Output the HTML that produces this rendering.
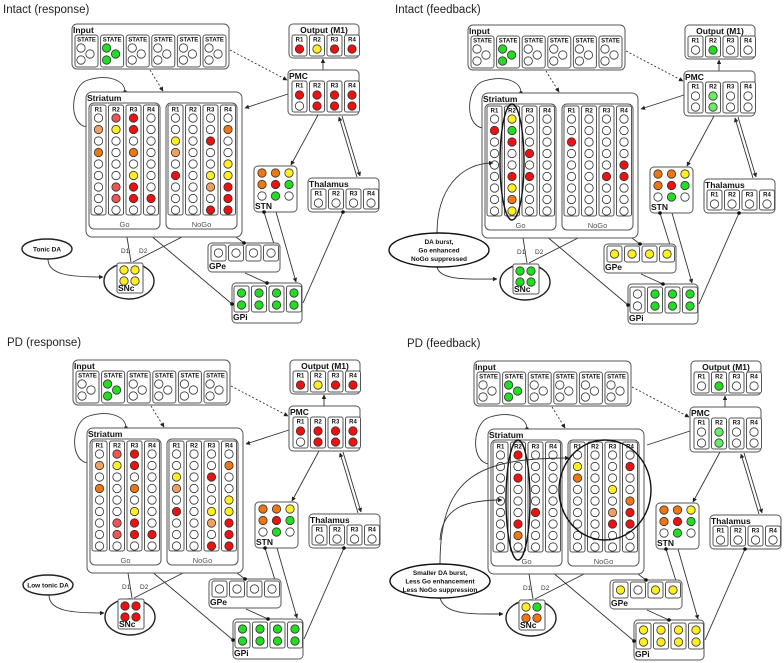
<!DOCTYPE html>
<html><head><meta charset="utf-8"><style>
html,body{margin:0;padding:0;background:#fff;width:784px;height:663px;overflow:hidden}
svg text{font-family:"Liberation Sans",sans-serif}
</style></head><body>
<svg id="s" width="784" height="663" viewBox="0 0 784 663" xmlns="http://www.w3.org/2000/svg">
<defs>
<marker id="a" viewBox="0 0 10 10" refX="9" refY="5" markerWidth="5" markerHeight="5" orient="auto"><path d="M0,0L10,5L0,10z" fill="#222"/></marker>
</defs>
</svg>
<script>
const S=document.getElementById('s');
let out='';
const C={r:'#ee1111',y:'#ffee22',o:'#ee7711',lr:'#ee5555',lo:'#f0a060',g:'#22dd22',lg:'#66ee66',e:'#fff'};
function rect(x,y,w,h,rx){out+=`<rect x="${x}" y="${y}" width="${w}" height="${h}" rx="${rx}" fill="#fff" stroke="#555" stroke-width="1"/>`;}
function circ(x,y,f){out+=`<circle cx="${x}" cy="${y}" r="4.2" fill="${C[f||'e']}" stroke="#333" stroke-width="0.8"/>`;}
function txt(x,y,t,s,b,anc,col){out+=`<text x="${x}" y="${y}" font-size="${s}" ${b?'font-weight="bold"':''} ${anc?'text-anchor="'+anc+'"':''} fill="${col||'#111'}">${t}</text>`;}
function line(d,opt){out+=`<path d="${d}" fill="none" stroke="#333" stroke-width="0.9" ${opt||''}/>`;}
function dot(x,y){out+=`<circle cx="${x}" cy="${y}" r="1.8" fill="#111"/>`;}
function panel(dx,dy,d){
 out+=`<g transform="translate(${dx},${dy})">`;
 line('M87,127 C68,125 70,85 88,80 C108,74 125,80 125,92');dot(125,92);
 line('M150,70 L163,91','stroke-dasharray="2,2" marker-end="url(#a)"');
 line('M230,50 L287,80','stroke-dasharray="2,2" marker-end="url(#a)"');
 line('M323,70 L323,59','marker-end="url(#a)"');
 line('M288,94 L245,108',d.noarr?'':'marker-end="url(#a)"');
 line('M318,115 L291,165','marker-end="url(#a)"');
 line('M357,177 L339,117','marker-end="url(#a)"');
 line('M342,116 L360,176','marker-end="url(#a)"');
 line('M343,212 L303,303');
 line('M236,237 L244,243');
 line('M245,273 L267,283');
 line('M264,212 L274,244');
 line('M276,212 L296,282','marker-end="url(#a)"');
 line('M143,229 L232,304');
 line('M127,237 L131,262');line('M182,237 L133,262');
 rect(72,24,157,45,5);txt(73,33,'Input',8.5,1);
 for(let i=0;i<6;i++){const x=75+i*25.6;rect(x,35,23,32,2.5);txt(x+11.5,41.5,'STATE',6,1,'middle');
  const f=i==1?'g':'e';circ(x+6,48,f);circ(x+15,54,f);circ(x+6,60,f);}
 rect(289,24,70,34,4);txt(324,33,'Output (M1)',8.5,1,'middle');
 for(let i=0;i<4;i++){const x=292+i*17.5;rect(x,35,15,21,2);txt(x+7.5,41.5,'R'+(i+1),6,1,'middle');circ(x+7.5,49,d.out[i]);}
 rect(288,70,71,45,4);txt(289,79,'PMC',8.5,1);
 for(let i=0;i<4;i++){const x=292+i*17.5;rect(x,81,15,31,2);txt(x+7.5,87.5,'R'+(i+1),6,1,'middle');circ(x+7.5,95,d.pmc[i][0]);circ(x+7.5,106,d.pmc[i][1]);}
 rect(86,92,156,145,6);txt(87,101,'Striatum',8.5,1);
 [[89,d.go,'Go'],[166,d.nogo,'NoGo']].forEach(([gx,cols,lab])=>{
  rect(gx,103,71,126,5);txt(gx+35.5,227,lab,7.5,0,'middle','#555');
  for(let i=0;i<4;i++){const x=gx+2+i*17.5;rect(x,105,15,110,2);txt(x+7.5,111.5,'R'+(i+1),6,1,'middle');
   for(let j=0;j<9;j++){circ(x+7.5,118+j*11.5,(cols[i]||{})[j+1]);}}
 });
 rect(254,166,43,46,4);
 const stn=['o','o','y','o','r','g','e','g','e'];
 for(let k=0;k<9;k++)circ(262+(k%3)*13.5,173+Math.floor(k/3)*11.5,stn[k]);
 txt(255,209,'STN',8.5,1);
 rect(308,178,71,34,4);txt(309,187,'Thalamus',8.5,1);
 for(let i=0;i<4;i++){const x=311+i*17.5;rect(x,189,15,20,2);txt(x+7.5,195.5,'R'+(i+1),6,1,'middle');circ(x+7.5,203,'e');}
 rect(208,243,72,29,4);
 for(let i=0;i<4;i++){const x=211+i*17.5;rect(x,245,15,16,2);circ(x+7.5,253,d.gpe[i]);}
 txt(209,269,'GPe',8.5,1);
 rect(232,283,70,40,4);
 for(let i=0;i<4;i++){const x=234+i*17.5;rect(x,286,15,26,2);circ(x+7.5,293,d.gpi[i][0]);circ(x+7.5,305,d.gpi[i][1]);}
 txt(233,320,'GPi',8.5,1);
 dot(343,212);dot(244,243);dot(267,283);dot(264,212);dot(232,304);
 out+=`<ellipse cx="129" cy="281" rx="25" ry="18" fill="#fff" stroke="#222" stroke-width="1.4"/>`;
 rect(117,263,26,30,2);
 circ(124,270,d.snc[0]);circ(135,270,d.snc[1]);circ(124,281,d.snc[2]);circ(135,281,d.snc[3]);
 txt(118,291,'SNc',8.5,1);
 txt(121,253,'D1',6.5,0,'','#333');txt(139,253,'D2',6.5,0,'','#333');
 if(d.tonic){
  out+=`<ellipse cx="47" cy="249" rx="25" ry="10" fill="#fff" stroke="#222" stroke-width="1.4"/>`;
  txt(47,251.5,d.tonic,6.5,1,'middle');
  line('M48,259 C48,275 70,277 103,277','stroke-width="1.2" marker-end="url(#a)"');
 }
 out+='</g>';
}
const goA=[{2:'lo',4:'o'},{1:'lr',2:'y',7:'lr',8:'lr'},{1:'r',2:'r',4:'o',6:'y',7:'r',8:'r'},{8:'r'}];
const nogoA=[{3:'y',4:'lo',6:'r'},{},{3:'r',6:'y',7:'lo',9:'r'},{2:'o',5:'y',6:'y',7:'r',8:'r',9:'r'}];
const pmcA=[['r','e'],['r','r'],['r','r'],['r','r']];
const g8=[['g','g'],['g','g'],['g','g'],['g','g']];
panel(0,0,{out:['r','y','r','r'],pmc:pmcA,go:goA,nogo:nogoA,gpe:['e','e','e','e'],gpi:g8,snc:['y','y','y','y'],tonic:'Tonic DA'});
panel(1,336,{out:['r','y','r','r'],pmc:pmcA,go:goA,nogo:nogoA,gpe:['e','e','e','e'],gpi:g8,snc:['r','r','r','r'],tonic:'Low tonic DA'});
const pmcF=[['e','e'],['lg','lg'],['e','e'],['e','e']];
panel(396,1,{out:['e','g','e','e'],pmc:pmcF,
 go:[{2:'r'},{1:'y',2:'g',3:'r',6:'r',7:'y',8:'o',9:'y'},{4:'r',6:'r'},{}],
 nogo:[{3:'r'},{},{6:'r'},{5:'r',6:'r'}],
 gpe:['y','y','y','y'],gpi:[['e','e'],['g','g'],['g','g'],['g','g']],snc:['g','g','g','g']});
panel(402,337,{out:['e','g','e','e'],pmc:pmcF,noarr:1,
 go:[{},{1:'r',3:'r',7:'r',8:'o'},{6:'r'},{}],
 nogo:[{2:'y',3:'o'},{},{4:'y',6:'lo',7:'r'},{2:'r',5:'o',6:'r',7:'r'}],
 gpe:['y','e','y','y'],gpi:[['y','y'],['y','y'],['y','y'],['y','y']],snc:['y','g','o','o']});
function ell(cx,cy,rx,ry,fill){out+=`<ellipse cx="${cx}" cy="${cy}" rx="${rx}" ry="${ry}" fill="${fill||'none'}" stroke="#111" stroke-width="1.4"/>`;}
ell(512,162,12,58);
line('M437,233 C437,190 460,163 493,163','stroke-width="1.2" marker-end="url(#a)"');
line('M437,267 C440,281 470,279 497,279','stroke-width="1.2" marker-end="url(#a)"');
ell(439,250,50,17,'#fff');
txt(439,244,'DA burst,',6.5,1,'middle');txt(439,252.5,'Go enhanced',6.5,1,'middle');txt(439,261,'NoGo suppressed',6.5,1,'middle');
ell(518,500,12,60);ell(605,490,46,50);
line('M440,564 C440,475 480,458 569,458','stroke-width="1.2" marker-end="url(#a)"');
line('M440,540 C442,505 470,500 502,500','stroke-width="1.2" marker-end="url(#a)"');
line('M440,598 C445,615 470,614 503,614','stroke-width="1.2" marker-end="url(#a)"');
ell(440,581,50,17,'#fff');
txt(440,575,'Smaller DA burst,',6.5,1,'middle');txt(440,583.5,'Less Go enhancement',6.5,1,'middle');txt(440,592,'Less NoGo suppression',6.5,1,'middle');
txt(3,13,'Intact (response)',11.5,0,'','#222');
txt(395,13,'Intact (feedback)',11.5,0,'','#222');
txt(7,346,'PD (response)',11.5,0,'','#222');
txt(407,347,'PD (feedback)',11.5,0,'','#222');
S.insertAdjacentHTML('beforeend',out);
</script>
</body></html>
